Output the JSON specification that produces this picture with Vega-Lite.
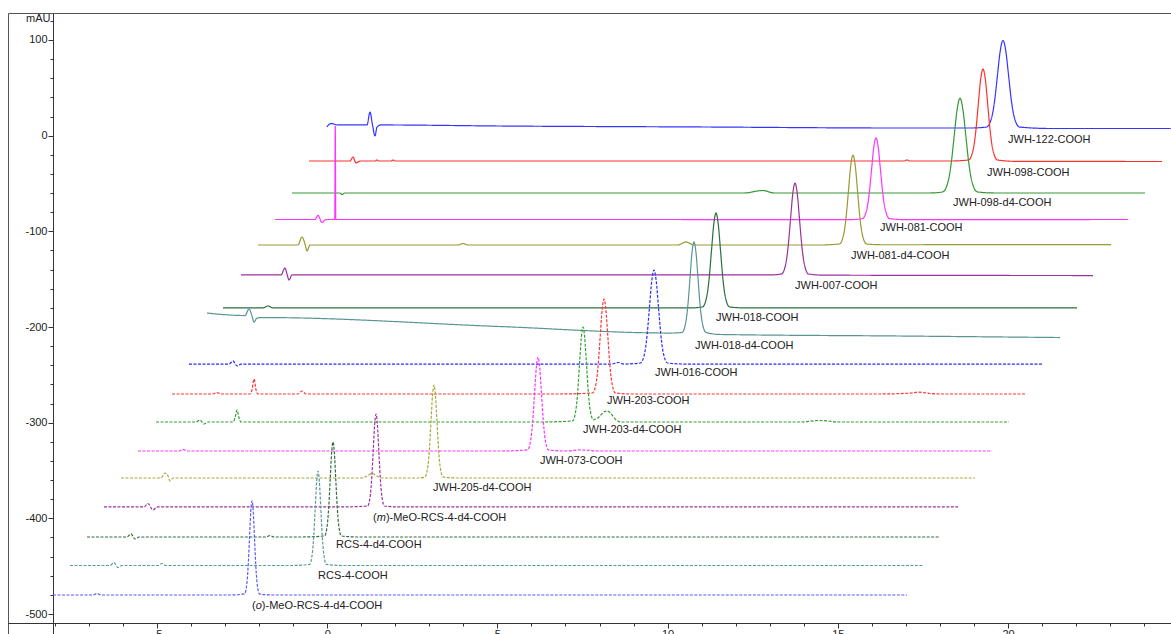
{
"$schema": "https://vega.github.io/schema/vega-lite/v6.json",
"width": 1163,
"height": 621,
"autosize": {"type": "none"},
"padding": {"left": 8, "top": 13, "right": 0, "bottom": 0},
"background": "white",
"view": {"stroke": "#555555", "strokeWidth": 1},
"config": {"font": "Liberation Sans"},
"datasets": {
"tr": [
{"s":"JWH-122-COOH","x":-0.01,"y":9.1},{"s":"JWH-122-COOH","x":0.11,"y":12.7},{"s":"JWH-122-COOH","x":0.32,"y":11.2},{"s":"JWH-122-COOH","x":1.17,"y":11.2},{"s":"JWH-122-COOH","x":1.257,"y":24.7},{"s":"JWH-122-COOH","x":1.331,"y":11.2},{"s":"JWH-122-COOH","x":1.404,"y":-0.3},{"s":"JWH-122-COOH","x":1.463,"y":9.0},{"s":"JWH-122-COOH","x":1.58,"y":11.2},{"s":"JWH-122-COOH","x":5.08,"y":10.1},{"s":"JWH-122-COOH","x":10.95,"y":9.1},{"s":"JWH-122-COOH","x":16.83,"y":8.0},{"s":"JWH-122-COOH","x":18.88,"y":8.0},
{"s":"JWH-122-COOH","x":19.368,"y":9.0},{"s":"JWH-122-COOH","x":19.53,"y":20.4},{"s":"JWH-122-COOH","x":19.611,"y":37.7},{"s":"JWH-122-COOH","x":19.691,"y":63.5},{"s":"JWH-122-COOH","x":19.772,"y":88.7},{"s":"JWH-122-COOH","x":19.853,"y":99.5},{"s":"JWH-122-COOH","x":19.934,"y":88.7},{"s":"JWH-122-COOH","x":20.015,"y":63.5},{"s":"JWH-122-COOH","x":20.095,"y":37.7},{"s":"JWH-122-COOH","x":20.176,"y":20.4},{"s":"JWH-122-COOH","x":20.338,"y":9.0},{"s":"JWH-122-COOH","x":21.25,"y":7.5},{"s":"JWH-122-COOH","x":24.78,"y":7.5},

{"s":"JWH-098-COOH","x":-0.535,"y":-26.5},{"s":"JWH-098-COOH","x":0.67,"y":-26.5},{"s":"JWH-098-COOH","x":0.758,"y":-22.3},{"s":"JWH-098-COOH","x":0.846,"y":-28.5},{"s":"JWH-098-COOH","x":0.963,"y":-26.5},{"s":"JWH-098-COOH","x":1.41,"y":-26.5},{"s":"JWH-098-COOH","x":1.463,"y":-25.4},{"s":"JWH-098-COOH","x":1.52,"y":-26.5},{"s":"JWH-098-COOH","x":1.88,"y":-26.5},{"s":"JWH-098-COOH","x":1.933,"y":-25.4},{"s":"JWH-098-COOH","x":1.99,"y":-26.5},{"s":"JWH-098-COOH","x":8.01,"y":-26.5},{"s":"JWH-098-COOH","x":16.95,"y":-26.5},{"s":"JWH-098-COOH","x":17.03,"y":-25.4},{"s":"JWH-098-COOH","x":17.11,"y":-26.5},{"s":"JWH-098-COOH","x":18.3,"y":-26.5},
{"s":"JWH-098-COOH","x":18.842,"y":-25.4},{"s":"JWH-098-COOH","x":18.983,"y":-13.5},{"s":"JWH-098-COOH","x":19.054,"y":4.7},{"s":"JWH-098-COOH","x":19.124,"y":31.8},{"s":"JWH-098-COOH","x":19.195,"y":58.4},{"s":"JWH-098-COOH","x":19.265,"y":69.7},{"s":"JWH-098-COOH","x":19.336,"y":58.4},{"s":"JWH-098-COOH","x":19.406,"y":31.8},{"s":"JWH-098-COOH","x":19.477,"y":4.7},{"s":"JWH-098-COOH","x":19.547,"y":-13.5},{"s":"JWH-098-COOH","x":19.688,"y":-25.4},{"s":"JWH-098-COOH","x":20.2,"y":-26.8},{"s":"JWH-098-COOH","x":24.524,"y":-27.0},

{"s":"JWH-098-d4-COOH","x":-1.034,"y":-59.9},{"s":"JWH-098-d4-COOH","x":0.376,"y":-59.9},{"s":"JWH-098-d4-COOH","x":0.435,"y":-61.5},{"s":"JWH-098-d4-COOH","x":0.523,"y":-59.9},{"s":"JWH-098-d4-COOH","x":12.244,"y":-59.9},{"s":"JWH-098-d4-COOH","x":12.803,"y":-57.3},{"s":"JWH-098-d4-COOH","x":13.126,"y":-59.9},{"s":"JWH-098-d4-COOH","x":17.709,"y":-59.9},
{"s":"JWH-098-d4-COOH","x":18.08,"y":-58.8},{"s":"JWH-098-d4-COOH","x":18.25,"y":-46.5},{"s":"JWH-098-d4-COOH","x":18.335,"y":-27.8},{"s":"JWH-098-d4-COOH","x":18.42,"y":0.1},{"s":"JWH-098-d4-COOH","x":18.505,"y":27.4},{"s":"JWH-098-d4-COOH","x":18.59,"y":39.1},{"s":"JWH-098-d4-COOH","x":18.675,"y":27.4},{"s":"JWH-098-d4-COOH","x":18.76,"y":0.1},{"s":"JWH-098-d4-COOH","x":18.845,"y":-27.8},{"s":"JWH-098-d4-COOH","x":18.93,"y":-46.5},{"s":"JWH-098-d4-COOH","x":19.1,"y":-58.8},{"s":"JWH-098-d4-COOH","x":19.6,"y":-59.9},{"s":"JWH-098-d4-COOH","x":24.025,"y":-59.9},

{"s":"JWH-081-COOH","x":-1.533,"y":-87.6},{"s":"JWH-081-COOH","x":-0.359,"y":-87.6},{"s":"JWH-081-COOH","x":-0.271,"y":-83.4},{"s":"JWH-081-COOH","x":-0.153,"y":-90.7},{"s":"JWH-081-COOH","x":-0.035,"y":-87.6},{"s":"JWH-081-COOH","x":0.2,"y":-87.6},{"s":"JWH-081-COOH","x":0.222,"y":-87.6},{"s":"JWH-081-COOH","x":0.237,"y":10.1},{"s":"JWH-081-COOH","x":0.252,"y":-87.6},{"s":"JWH-081-COOH","x":0.29,"y":-87.6},{"s":"JWH-081-COOH","x":0.523,"y":-87.6},{"s":"JWH-081-COOH","x":8.014,"y":-87.6},{"s":"JWH-081-COOH","x":15.358,"y":-87.8},
{"s":"JWH-081-COOH","x":15.725,"y":-86.7},{"s":"JWH-081-COOH","x":15.858,"y":-76.1},{"s":"JWH-081-COOH","x":15.924,"y":-59.9},{"s":"JWH-081-COOH","x":15.99,"y":-36.0},{"s":"JWH-081-COOH","x":16.056,"y":-12.4},{"s":"JWH-081-COOH","x":16.122,"y":-2.4},{"s":"JWH-081-COOH","x":16.188,"y":-12.4},{"s":"JWH-081-COOH","x":16.254,"y":-36.0},{"s":"JWH-081-COOH","x":16.32,"y":-59.9},{"s":"JWH-081-COOH","x":16.386,"y":-76.1},{"s":"JWH-081-COOH","x":16.519,"y":-86.7},{"s":"JWH-081-COOH","x":17.0,"y":-87.8},{"s":"JWH-081-COOH","x":23.525,"y":-87.6},

{"s":"JWH-081-d4-COOH","x":-2.033,"y":-114.3},{"s":"JWH-081-d4-COOH","x":-0.858,"y":-114.3},{"s":"JWH-081-d4-COOH","x":-0.74,"y":-105.9},{"s":"JWH-081-d4-COOH","x":-0.652,"y":-113.2},{"s":"JWH-081-d4-COOH","x":-0.593,"y":-120.5},{"s":"JWH-081-d4-COOH","x":-0.505,"y":-114.3},{"s":"JWH-081-d4-COOH","x":3.842,"y":-114.3},{"s":"JWH-081-d4-COOH","x":3.989,"y":-112.7},{"s":"JWH-081-d4-COOH","x":4.136,"y":-114.3},{"s":"JWH-081-d4-COOH","x":10.305,"y":-114.3},{"s":"JWH-081-d4-COOH","x":10.54,"y":-111.1},{"s":"JWH-081-d4-COOH","x":10.775,"y":-114.3},{"s":"JWH-081-d4-COOH","x":14.477,"y":-114.3},
{"s":"JWH-081-d4-COOH","x":15.049,"y":-113.2},{"s":"JWH-081-d4-COOH","x":15.182,"y":-101.6},{"s":"JWH-081-d4-COOH","x":15.248,"y":-83.7},{"s":"JWH-081-d4-COOH","x":15.314,"y":-57.2},{"s":"JWH-081-d4-COOH","x":15.38,"y":-31.3},{"s":"JWH-081-d4-COOH","x":15.446,"y":-20.2},{"s":"JWH-081-d4-COOH","x":15.512,"y":-31.3},{"s":"JWH-081-d4-COOH","x":15.578,"y":-57.2},{"s":"JWH-081-d4-COOH","x":15.644,"y":-83.7},{"s":"JWH-081-d4-COOH","x":15.71,"y":-101.6},{"s":"JWH-081-d4-COOH","x":15.843,"y":-113.2},{"s":"JWH-081-d4-COOH","x":16.3,"y":-114.0},{"s":"JWH-081-d4-COOH","x":23.026,"y":-113.8},

{"s":"JWH-007-COOH","x":-2.532,"y":-145.6},{"s":"JWH-007-COOH","x":-1.357,"y":-145.6},{"s":"JWH-007-COOH","x":-1.24,"y":-138.3},{"s":"JWH-007-COOH","x":-1.181,"y":-144.6},{"s":"JWH-007-COOH","x":-1.122,"y":-150.9},{"s":"JWH-007-COOH","x":-1.034,"y":-145.6},{"s":"JWH-007-COOH","x":8.014,"y":-145.6},{"s":"JWH-007-COOH","x":12.959,"y":-145.6},
{"s":"JWH-007-COOH","x":13.346,"y":-144.6},{"s":"JWH-007-COOH","x":13.479,"y":-132.6},{"s":"JWH-007-COOH","x":13.545,"y":-114.4},{"s":"JWH-007-COOH","x":13.611,"y":-87.3},{"s":"JWH-007-COOH","x":13.677,"y":-60.8},{"s":"JWH-007-COOH","x":13.743,"y":-49.5},{"s":"JWH-007-COOH","x":13.809,"y":-60.8},{"s":"JWH-007-COOH","x":13.875,"y":-87.3},{"s":"JWH-007-COOH","x":13.941,"y":-114.4},{"s":"JWH-007-COOH","x":14.007,"y":-132.6},{"s":"JWH-007-COOH","x":14.14,"y":-144.6},{"s":"JWH-007-COOH","x":14.6,"y":-145.8},{"s":"JWH-007-COOH","x":22.497,"y":-146.2},

{"s":"JWH-018-COOH","x":-3.061,"y":-180.1},{"s":"JWH-018-COOH","x":-1.886,"y":-180.1},{"s":"JWH-018-COOH","x":-1.739,"y":-178.0},{"s":"JWH-018-COOH","x":-1.592,"y":-180.1},{"s":"JWH-018-COOH","x":5.076,"y":-180.1},{"s":"JWH-018-COOH","x":10.658,"y":-180.1},
{"s":"JWH-018-COOH","x":11.025,"y":-179.0},{"s":"JWH-018-COOH","x":11.158,"y":-166.7},{"s":"JWH-018-COOH","x":11.224,"y":-147.9},{"s":"JWH-018-COOH","x":11.29,"y":-119.9},{"s":"JWH-018-COOH","x":11.356,"y":-92.5},{"s":"JWH-018-COOH","x":11.422,"y":-80.8},{"s":"JWH-018-COOH","x":11.488,"y":-92.5},{"s":"JWH-018-COOH","x":11.554,"y":-119.9},{"s":"JWH-018-COOH","x":11.62,"y":-147.9},{"s":"JWH-018-COOH","x":11.686,"y":-166.7},{"s":"JWH-018-COOH","x":11.819,"y":-179.0},{"s":"JWH-018-COOH","x":12.3,"y":-180.1},{"s":"JWH-018-COOH","x":22.027,"y":-180.1},

{"s":"JWH-018-d4-COOH","x":-3.531,"y":-185.4},{"s":"JWH-018-d4-COOH","x":-3.09,"y":-186.9},{"s":"JWH-018-d4-COOH","x":-2.415,"y":-188.0},{"s":"JWH-018-d4-COOH","x":-2.297,"y":-181.2},{"s":"JWH-018-d4-COOH","x":-2.209,"y":-188.5},{"s":"JWH-018-d4-COOH","x":-2.15,"y":-194.8},{"s":"JWH-018-d4-COOH","x":-2.062,"y":-190.6},{"s":"JWH-018-d4-COOH","x":-1.915,"y":-190.1},{"s":"JWH-018-d4-COOH","x":5.076,"y":-199.5},{"s":"JWH-018-d4-COOH","x":10.07,"y":-206.3},
{"s":"JWH-018-d4-COOH","x":10.423,"y":-205.7},{"s":"JWH-018-d4-COOH","x":10.54,"y":-193.9},{"s":"JWH-018-d4-COOH","x":10.599,"y":-175.7},{"s":"JWH-018-d4-COOH","x":10.658,"y":-148.8},{"s":"JWH-018-d4-COOH","x":10.716,"y":-122.3},{"s":"JWH-018-d4-COOH","x":10.775,"y":-111.1},{"s":"JWH-018-d4-COOH","x":10.834,"y":-122.3},{"s":"JWH-018-d4-COOH","x":10.893,"y":-148.8},{"s":"JWH-018-d4-COOH","x":10.951,"y":-175.7},{"s":"JWH-018-d4-COOH","x":11.01,"y":-193.9},{"s":"JWH-018-d4-COOH","x":11.128,"y":-205.7},{"s":"JWH-018-d4-COOH","x":11.539,"y":-207.8},{"s":"JWH-018-d4-COOH","x":16.826,"y":-209.4},{"s":"JWH-018-d4-COOH","x":21.528,"y":-211.0},

{"s":"JWH-016-COOH","x":-4.06,"y":-238.7},{"s":"JWH-016-COOH","x":-2.884,"y":-238.7},{"s":"JWH-016-COOH","x":-2.767,"y":-235.5},{"s":"JWH-016-COOH","x":-2.649,"y":-240.7},{"s":"JWH-016-COOH","x":-2.532,"y":-238.7},{"s":"JWH-016-COOH","x":8.014,"y":-238.7},{"s":"JWH-016-COOH","x":8.366,"y":-238.7},{"s":"JWH-016-COOH","x":8.543,"y":-237.1},{"s":"JWH-016-COOH","x":8.719,"y":-238.7},
{"s":"JWH-016-COOH","x":9.203,"y":-237.6},{"s":"JWH-016-COOH","x":9.336,"y":-225.4},{"s":"JWH-016-COOH","x":9.402,"y":-206.8},{"s":"JWH-016-COOH","x":9.468,"y":-179.1},{"s":"JWH-016-COOH","x":9.534,"y":-152.0},{"s":"JWH-016-COOH","x":9.6,"y":-140.4},{"s":"JWH-016-COOH","x":9.666,"y":-152.0},{"s":"JWH-016-COOH","x":9.732,"y":-179.1},{"s":"JWH-016-COOH","x":9.798,"y":-206.8},{"s":"JWH-016-COOH","x":9.864,"y":-225.4},{"s":"JWH-016-COOH","x":9.997,"y":-237.6},{"s":"JWH-016-COOH","x":10.5,"y":-238.7},{"s":"JWH-016-COOH","x":20.999,"y":-238.7},

{"s":"JWH-203-COOH","x":-4.559,"y":-270.0},{"s":"JWH-203-COOH","x":-3.355,"y":-270.0},{"s":"JWH-203-COOH","x":-3.237,"y":-268.5},{"s":"JWH-203-COOH","x":-3.12,"y":-270.0},{"s":"JWH-203-COOH","x":-2.268,"y":-270.0},{"s":"JWH-203-COOH","x":-2.209,"y":-265.8},{"s":"JWH-203-COOH","x":-2.15,"y":-254.3},{"s":"JWH-203-COOH","x":-2.091,"y":-265.8},{"s":"JWH-203-COOH","x":-2.033,"y":-270.0},{"s":"JWH-203-COOH","x":-0.858,"y":-270.0},{"s":"JWH-203-COOH","x":-0.74,"y":-266.9},{"s":"JWH-203-COOH","x":-0.623,"y":-270.0},{"s":"JWH-203-COOH","x":6.838,"y":-270.0},
{"s":"JWH-203-COOH","x":7.797,"y":-268.9},{"s":"JWH-203-COOH","x":7.909,"y":-256.6},{"s":"JWH-203-COOH","x":7.965,"y":-237.8},{"s":"JWH-203-COOH","x":8.02,"y":-209.8},{"s":"JWH-203-COOH","x":8.076,"y":-182.4},{"s":"JWH-203-COOH","x":8.132,"y":-170.7},{"s":"JWH-203-COOH","x":8.188,"y":-182.4},{"s":"JWH-203-COOH","x":8.244,"y":-209.8},{"s":"JWH-203-COOH","x":8.299,"y":-237.8},{"s":"JWH-203-COOH","x":8.355,"y":-256.6},{"s":"JWH-203-COOH","x":8.467,"y":-268.9},{"s":"JWH-203-COOH","x":8.9,"y":-270.0},{"s":"JWH-203-COOH","x":16.24,"y":-270.0},{"s":"JWH-203-COOH","x":17.18,"y":-269.0},{"s":"JWH-203-COOH","x":17.356,"y":-268.0},{"s":"JWH-203-COOH","x":17.709,"y":-269.5},{"s":"JWH-203-COOH","x":18.003,"y":-270.0},{"s":"JWH-203-COOH","x":20.529,"y":-270.0},

{"s":"JWH-203-d4-COOH","x":-5.029,"y":-299.3},{"s":"JWH-203-d4-COOH","x":-3.855,"y":-299.3},{"s":"JWH-203-d4-COOH","x":-3.737,"y":-297.2},{"s":"JWH-203-d4-COOH","x":-3.62,"y":-301.4},{"s":"JWH-203-d4-COOH","x":-3.502,"y":-299.3},{"s":"JWH-203-d4-COOH","x":-2.767,"y":-299.3},{"s":"JWH-203-d4-COOH","x":-2.708,"y":-295.1},{"s":"JWH-203-d4-COOH","x":-2.649,"y":-286.7},{"s":"JWH-203-d4-COOH","x":-2.591,"y":-295.1},{"s":"JWH-203-d4-COOH","x":-2.532,"y":-299.3},{"s":"JWH-203-d4-COOH","x":6.251,"y":-299.3},
{"s":"JWH-203-d4-COOH","x":7.207,"y":-298.2},{"s":"JWH-203-d4-COOH","x":7.309,"y":-285.9},{"s":"JWH-203-d4-COOH","x":7.361,"y":-267.0},{"s":"JWH-203-d4-COOH","x":7.412,"y":-239.1},{"s":"JWH-203-d4-COOH","x":7.464,"y":-211.7},{"s":"JWH-203-d4-COOH","x":7.515,"y":-200.0},{"s":"JWH-203-d4-COOH","x":7.566,"y":-211.7},{"s":"JWH-203-d4-COOH","x":7.618,"y":-239.1},{"s":"JWH-203-d4-COOH","x":7.669,"y":-267.0},{"s":"JWH-203-d4-COOH","x":7.721,"y":-285.9},{"s":"JWH-203-d4-COOH","x":7.823,"y":-297.0},
{"s":"JWH-203-d4-COOH","x":7.9,"y":-296.0},{"s":"JWH-203-d4-COOH","x":7.97,"y":-294.5},{"s":"JWH-203-d4-COOH","x":8.05,"y":-291.5},{"s":"JWH-203-d4-COOH","x":8.135,"y":-288.6},{"s":"JWH-203-d4-COOH","x":8.22,"y":-287.8},{"s":"JWH-203-d4-COOH","x":8.305,"y":-289.2},{"s":"JWH-203-d4-COOH","x":8.39,"y":-293.0},{"s":"JWH-203-d4-COOH","x":8.5,"y":-297.5},{"s":"JWH-203-d4-COOH","x":8.65,"y":-299.3},{"s":"JWH-203-d4-COOH","x":13.888,"y":-299.3},{"s":"JWH-203-d4-COOH","x":14.477,"y":-297.7},{"s":"JWH-203-d4-COOH","x":15.065,"y":-299.3},{"s":"JWH-203-d4-COOH","x":20.029,"y":-299.3},

{"s":"JWH-073-COOH","x":-5.558,"y":-329.6},{"s":"JWH-073-COOH","x":-4.354,"y":-329.6},{"s":"JWH-073-COOH","x":-4.236,"y":-328.0},{"s":"JWH-073-COOH","x":-4.119,"y":-329.6},{"s":"JWH-073-COOH","x":5.076,"y":-329.6},
{"s":"JWH-073-COOH","x":5.885,"y":-328.5},{"s":"JWH-073-COOH","x":5.987,"y":-316.3},{"s":"JWH-073-COOH","x":6.039,"y":-297.7},{"s":"JWH-073-COOH","x":6.09,"y":-270.0},{"s":"JWH-073-COOH","x":6.142,"y":-242.9},{"s":"JWH-073-COOH","x":6.193,"y":-231.4},{"s":"JWH-073-COOH","x":6.244,"y":-242.9},{"s":"JWH-073-COOH","x":6.296,"y":-270.0},{"s":"JWH-073-COOH","x":6.347,"y":-297.7},{"s":"JWH-073-COOH","x":6.399,"y":-316.3},{"s":"JWH-073-COOH","x":6.501,"y":-328.5},{"s":"JWH-073-COOH","x":6.986,"y":-329.6},{"s":"JWH-073-COOH","x":7.427,"y":-328.5},{"s":"JWH-073-COOH","x":8.014,"y":-329.6},{"s":"JWH-073-COOH","x":19.53,"y":-329.6},

{"s":"JWH-205-d4-COOH","x":-6.058,"y":-357.8},{"s":"JWH-205-d4-COOH","x":-4.883,"y":-357.8},{"s":"JWH-205-d4-COOH","x":-4.765,"y":-352.6},{"s":"JWH-205-d4-COOH","x":-4.677,"y":-355.7},{"s":"JWH-205-d4-COOH","x":-4.618,"y":-360.9},{"s":"JWH-205-d4-COOH","x":-4.53,"y":-357.8},{"s":"JWH-205-d4-COOH","x":1.022,"y":-357.8},{"s":"JWH-205-d4-COOH","x":1.169,"y":-355.7},{"s":"JWH-205-d4-COOH","x":1.316,"y":-353.1},{"s":"JWH-205-d4-COOH","x":1.463,"y":-355.7},{"s":"JWH-205-d4-COOH","x":1.61,"y":-357.8},{"s":"JWH-205-d4-COOH","x":2.727,"y":-357.8},
{"s":"JWH-205-d4-COOH","x":2.873,"y":-356.7},{"s":"JWH-205-d4-COOH","x":2.961,"y":-344.7},{"s":"JWH-205-d4-COOH","x":3.005,"y":-326.3},{"s":"JWH-205-d4-COOH","x":3.049,"y":-298.9},{"s":"JWH-205-d4-COOH","x":3.093,"y":-272.0},{"s":"JWH-205-d4-COOH","x":3.137,"y":-260.6},{"s":"JWH-205-d4-COOH","x":3.181,"y":-272.0},{"s":"JWH-205-d4-COOH","x":3.225,"y":-298.9},{"s":"JWH-205-d4-COOH","x":3.269,"y":-326.3},{"s":"JWH-205-d4-COOH","x":3.313,"y":-344.7},{"s":"JWH-205-d4-COOH","x":3.401,"y":-356.7},{"s":"JWH-205-d4-COOH","x":3.8,"y":-357.8},{"s":"JWH-205-d4-COOH","x":19.03,"y":-357.8},

{"s":"(m)-MeO-RCS-4-d4-COOH","x":-6.557,"y":-388.1},{"s":"(m)-MeO-RCS-4-d4-COOH","x":-5.382,"y":-388.1},{"s":"(m)-MeO-RCS-4-d4-COOH","x":-5.265,"y":-384.5},{"s":"(m)-MeO-RCS-4-d4-COOH","x":-5.118,"y":-391.3},{"s":"(m)-MeO-RCS-4-d4-COOH","x":-5.0,"y":-388.1},{"s":"(m)-MeO-RCS-4-d4-COOH","x":0.376,"y":-388.1},
{"s":"(m)-MeO-RCS-4-d4-COOH","x":1.187,"y":-387.1},{"s":"(m)-MeO-RCS-4-d4-COOH","x":1.269,"y":-375.0},{"s":"(m)-MeO-RCS-4-d4-COOH","x":1.311,"y":-356.6},{"s":"(m)-MeO-RCS-4-d4-COOH","x":1.352,"y":-329.2},{"s":"(m)-MeO-RCS-4-d4-COOH","x":1.393,"y":-302.4},{"s":"(m)-MeO-RCS-4-d4-COOH","x":1.434,"y":-290.9},{"s":"(m)-MeO-RCS-4-d4-COOH","x":1.475,"y":-302.4},{"s":"(m)-MeO-RCS-4-d4-COOH","x":1.516,"y":-329.2},{"s":"(m)-MeO-RCS-4-d4-COOH","x":1.557,"y":-356.6},{"s":"(m)-MeO-RCS-4-d4-COOH","x":1.599,"y":-375.0},{"s":"(m)-MeO-RCS-4-d4-COOH","x":1.681,"y":-387.1},{"s":"(m)-MeO-RCS-4-d4-COOH","x":2.1,"y":-388.1},{"s":"(m)-MeO-RCS-4-d4-COOH","x":18.531,"y":-388.1},

{"s":"RCS-4-d4-COOH","x":-7.056,"y":-419.5},{"s":"RCS-4-d4-COOH","x":-5.881,"y":-419.5},{"s":"RCS-4-d4-COOH","x":-5.764,"y":-416.3},{"s":"RCS-4-d4-COOH","x":-5.646,"y":-421.6},{"s":"RCS-4-d4-COOH","x":-5.529,"y":-419.5},{"s":"RCS-4-d4-COOH","x":-1.798,"y":-419.5},{"s":"RCS-4-d4-COOH","x":-1.68,"y":-417.9},{"s":"RCS-4-d4-COOH","x":-1.563,"y":-419.5},{"s":"RCS-4-d4-COOH","x":-0.804,"y":-419.5},
{"s":"RCS-4-d4-COOH","x":-0.077,"y":-418.4},{"s":"RCS-4-d4-COOH","x":0.005,"y":-406.1},{"s":"RCS-4-d4-COOH","x":0.047,"y":-387.2},{"s":"RCS-4-d4-COOH","x":0.088,"y":-359.3},{"s":"RCS-4-d4-COOH","x":0.129,"y":-331.9},{"s":"RCS-4-d4-COOH","x":0.17,"y":-320.2},{"s":"RCS-4-d4-COOH","x":0.211,"y":-331.9},{"s":"RCS-4-d4-COOH","x":0.252,"y":-359.3},{"s":"RCS-4-d4-COOH","x":0.293,"y":-387.2},{"s":"RCS-4-d4-COOH","x":0.335,"y":-406.1},{"s":"RCS-4-d4-COOH","x":0.417,"y":-418.4},{"s":"RCS-4-d4-COOH","x":0.9,"y":-419.5},{"s":"RCS-4-d4-COOH","x":18.002,"y":-419.5},

{"s":"RCS-4-COOH","x":-7.556,"y":-449.3},{"s":"RCS-4-COOH","x":-6.381,"y":-449.3},{"s":"RCS-4-COOH","x":-6.263,"y":-446.2},{"s":"RCS-4-COOH","x":-6.146,"y":-451.4},{"s":"RCS-4-COOH","x":-6.028,"y":-449.3},{"s":"RCS-4-COOH","x":-4.971,"y":-449.3},{"s":"RCS-4-COOH","x":-4.853,"y":-447.2},{"s":"RCS-4-COOH","x":-4.736,"y":-449.3},{"s":"RCS-4-COOH","x":-1.093,"y":-449.3},
{"s":"RCS-4-COOH","x":-0.517,"y":-448.2},{"s":"RCS-4-COOH","x":-0.435,"y":-435.9},{"s":"RCS-4-COOH","x":-0.393,"y":-417.2},{"s":"RCS-4-COOH","x":-0.352,"y":-389.4},{"s":"RCS-4-COOH","x":-0.311,"y":-362.1},{"s":"RCS-4-COOH","x":-0.27,"y":-350.5},{"s":"RCS-4-COOH","x":-0.229,"y":-362.1},{"s":"RCS-4-COOH","x":-0.188,"y":-389.4},{"s":"RCS-4-COOH","x":-0.147,"y":-417.2},{"s":"RCS-4-COOH","x":-0.105,"y":-435.9},{"s":"RCS-4-COOH","x":-0.023,"y":-448.2},{"s":"RCS-4-COOH","x":0.5,"y":-449.3},{"s":"RCS-4-COOH","x":17.503,"y":-449.3},

{"s":"(o)-MeO-RCS-4-d4-COOH","x":-8.055,"y":-480.1},{"s":"(o)-MeO-RCS-4-d4-COOH","x":-6.877,"y":-480.1},{"s":"(o)-MeO-RCS-4-d4-COOH","x":-6.763,"y":-478.6},{"s":"(o)-MeO-RCS-4-d4-COOH","x":-6.645,"y":-480.1},{"s":"(o)-MeO-RCS-4-d4-COOH","x":-2.855,"y":-480.1},
{"s":"(o)-MeO-RCS-4-d4-COOH","x":-2.429,"y":-479.0},{"s":"(o)-MeO-RCS-4-d4-COOH","x":-2.356,"y":-466.8},{"s":"(o)-MeO-RCS-4-d4-COOH","x":-2.319,"y":-448.1},{"s":"(o)-MeO-RCS-4-d4-COOH","x":-2.282,"y":-420.3},{"s":"(o)-MeO-RCS-4-d4-COOH","x":-2.246,"y":-393.1},{"s":"(o)-MeO-RCS-4-d4-COOH","x":-2.209,"y":-381.6},{"s":"(o)-MeO-RCS-4-d4-COOH","x":-2.172,"y":-393.1},{"s":"(o)-MeO-RCS-4-d4-COOH","x":-2.136,"y":-420.3},{"s":"(o)-MeO-RCS-4-d4-COOH","x":-2.099,"y":-448.1},{"s":"(o)-MeO-RCS-4-d4-COOH","x":-2.062,"y":-466.8},{"s":"(o)-MeO-RCS-4-d4-COOH","x":-1.989,"y":-479.0},{"s":"(o)-MeO-RCS-4-d4-COOH","x":-1.6,"y":-480.1},{"s":"(o)-MeO-RCS-4-d4-COOH","x":17.033,"y":-480.1}
],
"lab": [
{"t":"JWH-122-COOH","x":20.0,"y":-4.5},
{"t":"JWH-098-COOH","x":19.383,"y":-39.0},
{"t":"JWH-098-d4-COOH","x":18.384,"y":-70.4},
{"t":"JWH-081-COOH","x":16.24,"y":-96.5},
{"t":"JWH-081-d4-COOH","x":15.388,"y":-125.8},
{"t":"JWH-007-COOH","x":13.743,"y":-157.1},
{"t":"JWH-018-COOH","x":11.422,"y":-190.6},
{"t":"JWH-018-d4-COOH","x":10.805,"y":-219.8},
{"t":"JWH-016-COOH","x":9.63,"y":-248.1},
{"t":"JWH-203-COOH","x":8.22,"y":-277.4},
{"t":"JWH-203-d4-COOH","x":7.515,"y":-307.7},
{"t":"JWH-073-COOH","x":6.251,"y":-340.1},
{"t":"JWH-205-d4-COOH","x":3.108,"y":-368.4},
{"t":"RCS-4-d4-COOH","x":0.259,"y":-427.9},
{"t":"RCS-4-COOH","x":-0.27,"y":-460.3}
],
"labi": [
{"k":"m","x":1.345,"y":-399.6},
{"k":"o","x":-2.209,"y":-491.6}
]
},
"encoding": {
"x": {"field": "x", "type": "quantitative",
 "scale": {"domain": [-9.377, 24.788], "nice": false, "zero": false},
 "axis": {"orient": "bottom", "offset": -11, "title": null, "grid": false,
  "values": [-8,-7,-6,-5,-4,-3,-2,-1,0,1,2,3,4,5,6,7,8,9,10,11,12,13,14,15,16,17,18,19,20,21,22,23,24],
  "labelExpr": "datum.value % 5 === 0 ? '' + datum.value : ''",
  "tickSize": {"condition": {"test": "datum.value % 5 === 0", "value": 5}, "value": 3},
  "labelPadding": 0, "labelFontSize": 11, "labelFont": "Liberation Sans", "labelColor": "#222222",
  "labelOverlap": false, "labelFlush": false, "domainColor": "#333333", "tickColor": "#333333"}},
"y": {"field": "y", "type": "quantitative",
 "scale": {"domain": [-520.88, 128.22], "nice": false, "zero": false},
 "axis": {"orient": "left", "offset": -45, "grid": false,
  "values": [-500,-480,-460,-440,-420,-400,-380,-360,-340,-320,-300,-280,-260,-240,-220,-200,-180,-160,-140,-120,-100,-80,-60,-40,-20,0,20,40,60,80,100,120],
  "labelExpr": "datum.value % 100 === 0 ? '' + datum.value : ''",
  "tickSize": {"condition": {"test": "datum.value % 100 === 0", "value": 5}, "value": 3},
  "labelPadding": 1, "labelFontSize": 11, "labelFont": "Liberation Sans", "labelColor": "#222222",
  "labelOverlap": false, "labelFlush": false, "domainColor": "#333333", "tickColor": "#333333",
  "title": "mAU", "titleAngle": 0, "titleAlign": "right", "titleBaseline": "alphabetic",
  "titleX": -3, "titleY": 8, "titleFont": "Liberation Sans", "titleFontSize": 11,
  "titleFontWeight": "normal", "titleColor": "#222222"}}
},
"layer": [
{"data": {"name": "tr"},
 "mark": {"type": "line", "interpolate": "monotone", "strokeWidth": 1.2},
 "encoding": {
  "color": {"field": "s", "type": "nominal", "legend": null,
   "scale": {"domain": ["JWH-122-COOH","JWH-098-COOH","JWH-098-d4-COOH","JWH-081-COOH","JWH-081-d4-COOH","JWH-007-COOH","JWH-018-COOH","JWH-018-d4-COOH","JWH-016-COOH","JWH-203-COOH","JWH-203-d4-COOH","JWH-073-COOH","JWH-205-d4-COOH","(m)-MeO-RCS-4-d4-COOH","RCS-4-d4-COOH","RCS-4-COOH","(o)-MeO-RCS-4-d4-COOH"],
    "range": ["#3535ff","#ff3030","#339933","#ff33ff","#999933","#993399","#2e6e3e","#5a9494","#2a2aff","#ff3333","#33a033","#ff33ff","#a8a838","#993399","#2e6e3e","#5a9a9a","#5a5aff"]}},
  "strokeDash": {"field": "s", "type": "nominal", "legend": null,
   "scale": {"domain": ["JWH-122-COOH","JWH-098-COOH","JWH-098-d4-COOH","JWH-081-COOH","JWH-081-d4-COOH","JWH-007-COOH","JWH-018-COOH","JWH-018-d4-COOH","JWH-016-COOH","JWH-203-COOH","JWH-203-d4-COOH","JWH-073-COOH","JWH-205-d4-COOH","(m)-MeO-RCS-4-d4-COOH","RCS-4-d4-COOH","RCS-4-COOH","(o)-MeO-RCS-4-d4-COOH"],
    "range": [[1,0],[1,0],[1,0],[1,0],[1,0],[1,0],[1,0],[1,0],[3,1.5],[3,1.5],[3,1.5],[3,1.5],[3,1.5],[3,1.5],[3,1.5],[3,1.5],[3,1.5]]}}
 }},
{"data": {"name": "lab"},
 "mark": {"type": "text", "align": "left", "baseline": "middle", "font": "Liberation Sans", "fontSize": 11, "fill": "#222222"},
 "encoding": {"text": {"field": "t", "type": "nominal"}}},
{"data": {"name": "labi"},
 "mark": {"type": "text", "text": "(", "align": "left", "baseline": "middle", "font": "Liberation Sans", "fontSize": 11, "fill": "#222222"}},
{"data": {"name": "labi"},
 "mark": {"type": "text", "align": "left", "baseline": "middle", "dx": 3.7, "font": "Liberation Sans", "fontStyle": "italic", "fontSize": 11, "fill": "#222222"},
 "encoding": {"text": {"field": "k", "type": "nominal"}}},
{"data": {"name": "labi"},
 "transform": [{"filter": "datum.k === 'm'"}],
 "mark": {"type": "text", "text": ")-MeO-RCS-4-d4-COOH", "align": "left", "baseline": "middle", "dx": 12.9, "font": "Liberation Sans", "fontSize": 11, "fill": "#222222"}},
{"data": {"name": "labi"},
 "transform": [{"filter": "datum.k === 'o'"}],
 "mark": {"type": "text", "text": ")-MeO-RCS-4-d4-COOH", "align": "left", "baseline": "middle", "dx": 9.8, "font": "Liberation Sans", "fontSize": 11, "fill": "#222222"}}
]
}
